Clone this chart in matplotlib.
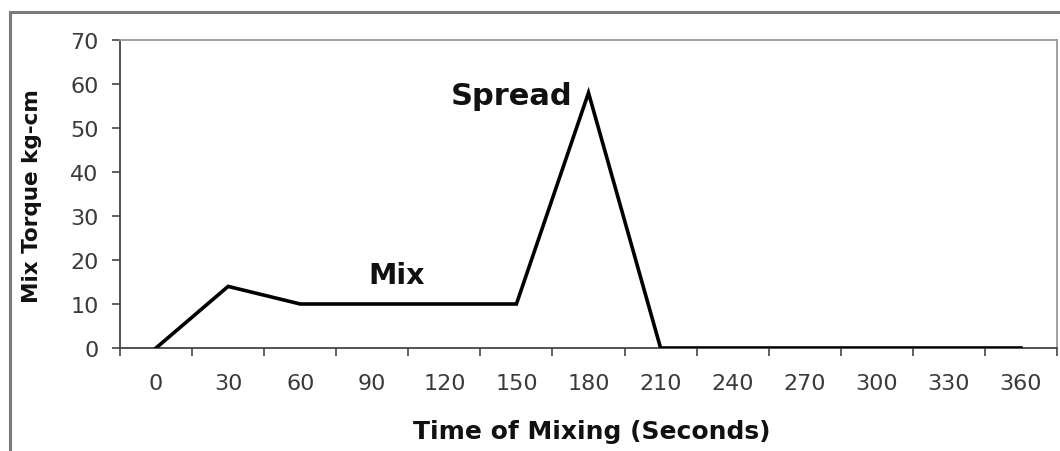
import numpy as np
import matplotlib
matplotlib.use("Agg")
import matplotlib.pyplot as plt
from matplotlib.patches import Rectangle

plt.rcParams['font.family'] = ['DejaVu Sans']

# data
time_labels = ["0", "30", "60", "90", "120", "150", "180", "210",
               "240", "270", "300", "330", "360"]
torque = [0, 14, 10, 10, 10, 10, 58, 0, 0, 0, 0, 0, 0]
y_ticks = [0, 10, 20, 30, 40, 50, 60, 70]

fig = plt.figure(figsize=(10.6, 4.52), dpi=100)
fig.patch.set_facecolor("white")

# outer chart frame (left and top edges visible)
fig.patches.append(Rectangle((10/1060, -0.1), 1.2, 1 - 13/452 + 0.1,
                             transform=fig.transFigure, fill=False,
                             edgecolor="#7a7a7a", linewidth=2.2))

ax = fig.add_axes([120/1060, 1 - 349/452, (1057-120)/1060, (349-41)/452])
x = np.arange(len(time_labels))
ax.plot(x, torque, color="black", linewidth=2.6, solid_joinstyle="miter", zorder=3)

ax.set_xlim(-0.5, len(time_labels) - 0.5)
ax.set_ylim(0, 70)

ax.set_xticks(x)
ax.set_xticklabels(time_labels, fontsize=16, color="#3a3a3a")
ax.set_xticks(np.arange(-0.5, len(time_labels)), minor=True)
ax.tick_params(axis="x", which="major", length=0, pad=18)
ax.tick_params(axis="x", which="minor", length=5.5, width=1.2, color="#444444", direction="out")

ax.set_yticks(y_ticks)
ax.set_yticklabels([str(v) for v in y_ticks], fontsize=16, color="#3a3a3a")
ax.tick_params(axis="y", length=5.5, width=1.2, color="#444444", pad=10)

for side in ("left", "bottom"):
    ax.spines[side].set_color("#444444")
    ax.spines[side].set_linewidth(1.3)
for side in ("top", "right"):
    ax.spines[side].set_color("#9a9a9a")
    ax.spines[side].set_linewidth(1.3)

ax.text(3.34, 14.8, "Mix", fontsize=20.5, fontweight="bold", color="#111111",
        ha="center", va="baseline")
ax.text(5.77, 55.5, "Spread", fontsize=22, fontweight="bold", color="#111111",
        ha="right", va="baseline")

fig.text(592/1060, 1 - 432/452, "Time of Mixing (Seconds)", fontsize=18,
         fontweight="bold", color="#111111", ha="center", va="center")
fig.text(32/1060, 1 - 196/452, "Mix Torque kg-cm", fontsize=15.5,
         fontweight="bold", color="#111111", ha="center", va="center", rotation=90)

fig.savefig("out.png", dpi=100)
